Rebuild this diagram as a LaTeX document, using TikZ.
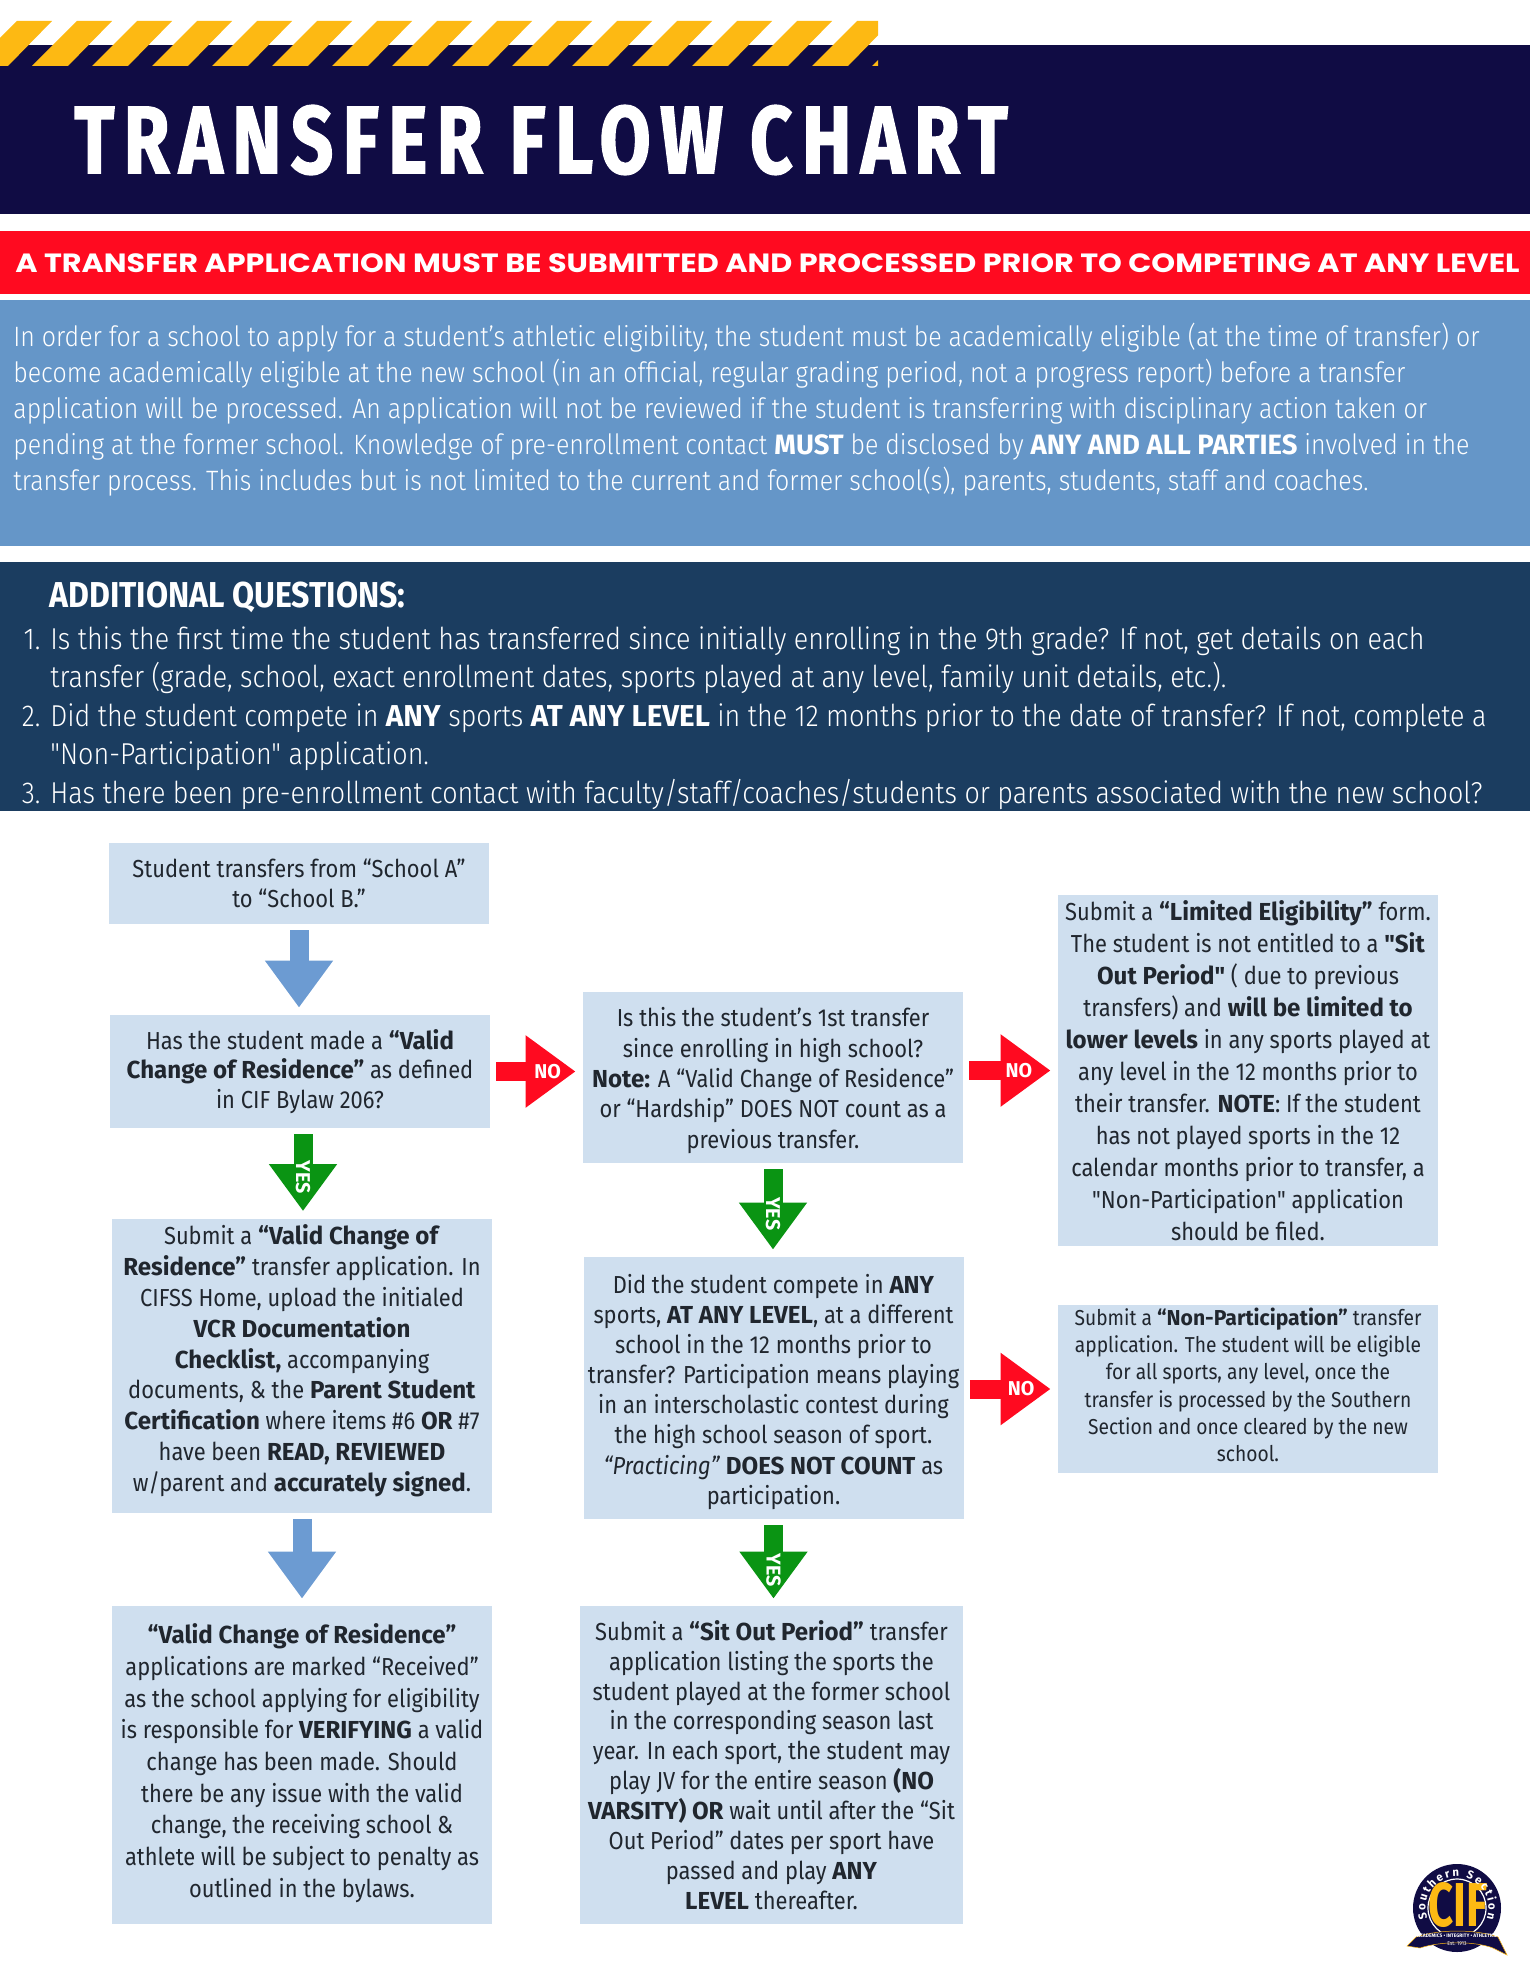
\documentclass[tikz,border=0pt]{standalone}
\usepackage{fontspec}
\usetikzlibrary{arrows.meta, calc, decorations.text}
\setmainfont[FakeStretch=0.89,Ligatures=TeXOff,BoldFeatures={FakeStretch=0.98}]{Fira Sans}
\newfontfamily\lightfont[FakeStretch=0.89,BoldFont={Fira Sans Bold},BoldFeatures={FakeStretch=0.98}]{Fira Sans Light}
\newfontfamily\titlefont[FakeStretch=0.77,LetterSpace=10,FakeBold=1.5]{Fira Sans Bold}
\newfontfamily\headfont[FakeStretch=0.89]{Fira Sans Bold}
\newfontfamily\bannerfont[FakeStretch=1.147]{Poppins Bold}
\definecolor{cfNavy}{HTML}{100C44}
\definecolor{cfGold}{HTML}{FDB913}
\definecolor{cfRed}{HTML}{FF0A20}
\definecolor{cfSky}{HTML}{6596C8}
\definecolor{cfDeep}{HTML}{1B3D60}
\definecolor{cfBox}{HTML}{CFDFEF}
\definecolor{cfInk}{HTML}{20262E}
\definecolor{cfArrow}{HTML}{6C9BD2}
\definecolor{cfGreen}{HTML}{0A9413}
\tikzset{
  band/.style   ={inner sep=0pt, minimum width=765pt},
  paper/.style  ={text=white, align=left, anchor=west, inner sep=0pt},
  flowbox/.style={fill=cfBox, text=cfInk, align=center, inner sep=0pt, minimum width=190pt,
                  font=\fontsize{12.3}{#1}\selectfont},
  flowbox/.default=15.5,
  smallbox/.style={flowbox, font=\fontsize{10.8}{13.63}\selectfont},
  bigarr/.style ={line width=9.5pt, shorten <=3pt, shorten >=3.5pt,
                  -{Triangle[length=23.5pt,width=32.5pt]}},
  skyarr/.style ={bigarr, draw=cfArrow},
  yesarr/.style ={bigarr, draw=cfGreen},
  noarr/.style  ={bigarr, draw=cfRed, -{Triangle[length=25pt,width=34.5pt]}},
  tag/.style    ={text=white, inner sep=0pt, font=\fontsize{10}{11}\selectfont\bfseries},
}

\begin{document}
\begin{tikzpicture}[x=0.5pt, y=-0.5pt]
\useasboundingbox (0,0) rectangle (1530,1980);

% ---- header ----
\node[band, fill=cfNavy, minimum height=84.5pt] (head) at (765,129.5) {};
\begin{scope}
  \clip (0,0) rectangle (878,70);
  \foreach \k in {0,...,15}{
    \fill[cfGold] ({-28+60*\k},66) -- ({17+60*\k},21) -- ({52+60*\k},21) -- ({8+60*\k},66) -- cycle;
  }
\end{scope}
\node[paper, font=\fontsize{48}{48}\selectfont\titlefont] (title) at (74,140) {TRANSFER FLOW CHART};
\node[band, fill=cfRed, minimum height=31.5pt] (warn) at (765,262) {};
\node[text=white, inner sep=0pt, font=\fontsize{13.2}{14}\selectfont\bannerfont] (warntext) at (767.5,263)
  {A TRANSFER APPLICATION MUST BE SUBMITTED AND PROCESSED PRIOR TO COMPETING AT ANY LEVEL};

% ---- intro band ----
\node[band, fill=cfSky, minimum height=123pt] (intro) at (765,423) {};
\node[paper, font=\fontsize{14}{18}\selectfont\lightfont] (introtext) at (13,409.5)
  {In order for a school to apply for a student’s athletic eligibility, the student must be academically eligible (at the time of transfer) or\\
   become academically eligible at the new school (in an official, regular grading period, not a progress report) before a transfer\\
   application will be processed. An application will not be reviewed if the student is transferring with disciplinary action taken or\\
   pending at the former school. Knowledge of pre-enrollment contact \textbf{MUST} be disclosed by \textbf{ANY AND ALL PARTIES} involved in the\\
   transfer process. This includes but is not limited to the current and former school(s), parents, students, staff and coaches.};

% ---- additional questions ----
\node[band, fill=cfDeep, minimum height=124.5pt] (extra) at (765,686.5) {};
\node[paper, font=\fontsize{18}{18}\selectfont\headfont] (extrahead) at (49,597) {ADDITIONAL QUESTIONS:};
\node[paper, font=\fontsize{15.1}{19.25}\selectfont\lightfont] (q1) at (50,660)
  {\llap{1.\hspace{5pt}}Is this the first time the student has transferred since initially enrolling in the 9th grade? If not, get details on each\\
   transfer (grade, school, exact enrollment dates, sports played at any level, family unit details, etc.).};
\node[paper, font=\fontsize{15.1}{19.25}\selectfont\lightfont] (q2) at (50,737)
  {\llap{2.\hspace{5pt}}Did the student compete in \textbf{ANY} sports \textbf{AT ANY LEVEL} in the 12 months prior to the date of transfer? If not, complete a\\
   "Non-Participation" application.};
\node[paper, font=\fontsize{15.1}{19.25}\selectfont\lightfont] (q3) at (50,794)
  {\llap{3.\hspace{5pt}}Has there been pre-enrollment contact with faculty/staff/coaches/students or parents associated with the new school?};

% ---- left column ----
\node[flowbox=15.15, minimum height=40.5pt] (a1) at (299,883.5)
  {Student transfers from “School A”\\to “School B.”};
\node[flowbox=14.9, minimum height=56.5pt] (a2) at (300,1071.5)
  {Has the student made a \textbf{“Valid}\\\textbf{Change of Residence”} as defined\\in CIF Bylaw 206?};
\node[flowbox=15.46, minimum height=147pt] (a3) at (302,1365.5)
  {Submit a \textbf{“Valid Change of}\\\textbf{Residence”} transfer application. In\\CIFSS Home, upload the initialed\\\textbf{VCR Documentation}\\\textbf{Checklist,} accompanying\\documents, \& the \textbf{Parent Student}\\\textbf{Certification} where items \#6 \textbf{OR} \#7\\have been \textbf{READ, REVIEWED}\\w/parent and \textbf{accurately signed}.\\[-8pt]};
\node[flowbox=15.85, minimum height=159pt] (a4) at (302,1765)
  {\textbf{“Valid Change of Residence”}\\applications are marked “Received”\\as the school applying for eligibility\\is responsible for \textbf{VERIFYING} a valid\\change has been made. Should\\there be any issue with the valid\\change, the receiving school \&\\athlete will be subject to penalty as\\outlined in the bylaws.\\[-11.45pt]};

% ---- middle column ----
\node[flowbox=15.15, minimum height=85.5pt] (b1) at (773,1077.5)
  {\\[-2.5pt]Is this the student’s 1st transfer\\since enrolling in high school?\\\textbf{Note:} A “Valid Change of Residence”\\or “Hardship” DOES NOT count as a\\previous transfer.};
\node[flowbox=15.1, minimum height=131pt] (b2) at (773.5,1388)
  {\\[-1.8pt]Did the student compete in \textbf{ANY}\\sports, \textbf{AT ANY LEVEL}, at a different\\school in the 12 months prior to\\transfer? Participation means playing\\in an interscholastic contest during\\the high school season of sport.\\\textit{“Practicing”} \textbf{DOES NOT COUNT} as\\participation.};
\node[flowbox=14.96, minimum width=191.5pt, minimum height=159pt] (b3) at (771.5,1765)
  {Submit a \textbf{“Sit Out Period”} transfer\\application listing the sports the\\student played at the former school\\in the corresponding season last\\year. In each sport, the student may\\play JV for the entire season \textbf{(NO}\\\textbf{VARSITY) OR} wait until after the “Sit\\Out Period” dates per sport have\\passed and play \textbf{ANY}\\\textbf{LEVEL} thereafter.};

% ---- right column ----
\node[flowbox=15.97, minimum height=175.5pt] (c1) at (1248,1070.5)
  {Submit a \textbf{“Limited Eligibility”} form.\\The student is not entitled to a \textbf{"Sit}\\\textbf{Out Period"} ( due to previous\\transfers) and \textbf{will be limited to}\\\textbf{lower levels} in any sports played at\\any level in the 12 months prior to\\their transfer. \textbf{NOTE}: If the student\\has not played sports in the 12\\calendar months prior to transfer, a\\"Non-Participation" application\\should be filed.};
\node[smallbox, minimum height=84pt] (c2) at (1248,1389)
  {Submit a \textbf{“Non-Participation”} transfer\\application. The student will be eligible\\for all sports, any level, once the\\transfer is processed by the Southern\\Section and once cleared by the new\\school.\\[-9.23pt]};

% ---- connectors ----
\draw[skyarr] (a1.south) -- (a1.south |- a2.north);
\draw[skyarr] (a3.south) -- (a3.south |- a4.north);
\draw[yesarr] ([xshift=1.5pt]a2.south) -- node[tag, rotate=-90, pos=.54] (y1) {YES} ([xshift=1.5pt]a2.south |- a3.north);
\draw[yesarr] (b1.south) -- node[tag, rotate=-90, pos=.54] (y2) {YES} (b1.south |- b2.north);
\draw[yesarr] (b2.south) -- node[tag, rotate=-90, pos=.59] (y3) {YES} (b2.south |- b3.north);
\draw[noarr] (a2.east) -- node[tag, pos=.62] (n1) {NO} (a2.east -| b1.west);
\draw[noarr] (b1.east |- c1.west) -- node[tag, pos=.59] (n2) {NO} (c1.west);
\draw[noarr] (b2.east |- c2.west) -- node[tag, pos=.61] (n3) {NO} (c2.west);

% ---- logo ----
\fill[cfNavy] (1457,1908) circle (44);
\draw[white, line width=0.6pt] (1457,1908) circle (29);
\node[text=cfGold, inner sep=0pt, font=\fontsize{31}{31}\selectfont\bfseries] (cif) at (1458,1905) {\scalebox{.72}[1]{CIF}};
\path[postaction={decorate, decoration={text along path, text align={fit to path},
      text={|\fontsize{5.8}{6}\selectfont\bfseries\color{white}|Southern Section}}}]
  (1427.4,1918.8) arc (160:380:31.5);
\fill[cfNavy, draw=cfGold, line width=0.25pt] (1407,1946) -- (1416,1937) .. controls (1440,1929) and (1475,1929) .. (1498,1937)
  -- (1507,1955) -- (1493,1948) .. controls (1475,1941) and (1440,1941) .. (1420,1948) -- cycle;
\node[text=white, inner sep=0pt, font=\fontsize{2.5}{3}\selectfont\bfseries] (motto) at (1457,1935.5) {ACADEMICS • INTEGRITY • ATHLETICS};
\node[text=white, inner sep=0pt, font=\fontsize{2.8}{3}\selectfont] (est) at (1457,1944) {Est. 1913};
\end{tikzpicture}
\end{document}
